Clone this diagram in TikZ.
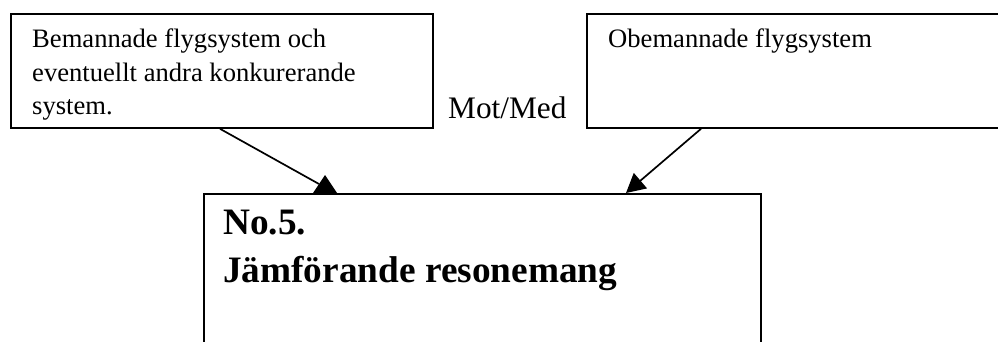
\documentclass[tikz,border=0pt]{standalone}
\usepackage{fontspec}
\setmainfont{Liberation Serif}
\usetikzlibrary{arrows.meta,calc}
\begin{document}
\begin{tikzpicture}[x=1pt,y=1pt,
  framebox/.style={draw=black,line width=1.8pt,rectangle,inner sep=0pt,anchor=north west},
  smalltext/.style={inner sep=0pt,anchor=north west,align=left,
    font=\fontsize{26.6}{33.3}\selectfont},
  headtext/.style={inner sep=0pt,anchor=north west,align=left,
    font=\fontsize{37.3}{48}\selectfont\bfseries},
  link/.style={line width=1.7pt},
  linktip/.style={link,-{Triangle[length=19pt,width=20pt]}}]
\useasboundingbox (0,0) rectangle (998,-341);
\clip (0,0) rectangle (998,-341);

% boxes
\node[framebox,minimum width=422pt,minimum height=114pt] (manned) at (10,-13) {};
\node[framebox,minimum width=430pt,minimum height=114pt] (unmanned) at (586,-13) {};
\node[framebox,minimum width=557pt,minimum height=170pt] (compare) at (203,-193) {};

% texts
\node[smalltext] (mannedtext) at (32,-29)
  {Bemannade flygsystem och\\eventuellt andra konkurerande\\system.};
\node[smalltext] (unmannedtext) at (608,-29) {Obemannade flygsystem};
\node[anchor=base west,inner sep=0pt,font=\fontsize{31.3}{36}\selectfont] (versus) at (448,-118) {Mot/Med};
\node[headtext] (comparetext) at (223,-210) {No.5.\\Jämförande resonemang};

% connectors
\coordinate (lstart) at ($(manned.south west)+(210,0)$);
\coordinate (ltip) at ($(compare.north west)+(122,0)$);
\coordinate (rstart) at ($(unmanned.south west)+(115,0)$);
\coordinate (rtip) at ($(compare.north west)+(423,0)$);
\draw[link] (lstart) -- ($(ltip)+(-6,9)$);
\fill ($(ltip)+(-12,0)$) -- ($(ltip)+(0,18)$) -- ($(ltip)+(12,0)$) -- cycle;
\draw[linktip] (rstart) -- (rtip);
\end{tikzpicture}
\end{document}
